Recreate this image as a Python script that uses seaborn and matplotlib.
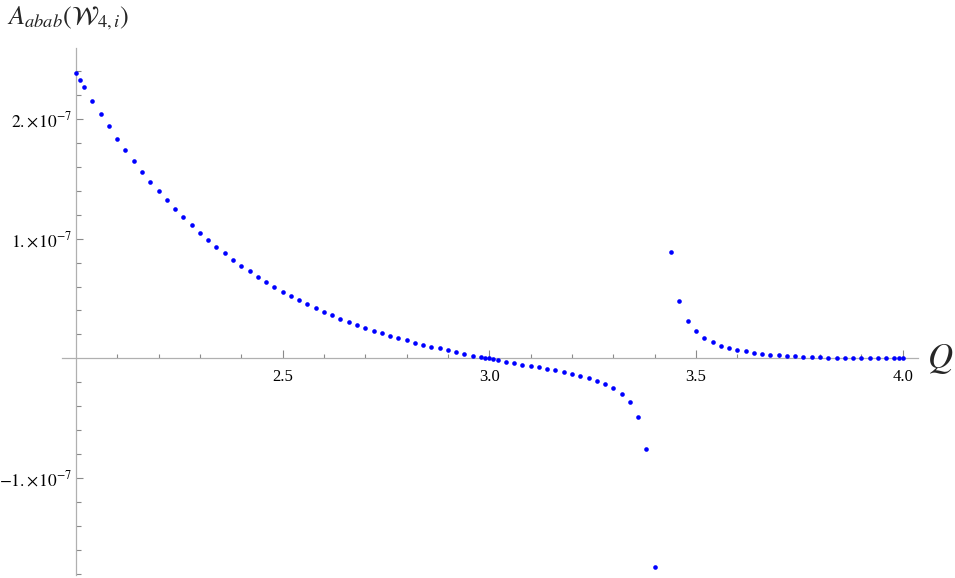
import numpy as np
import pandas as pd
import matplotlib
matplotlib.use("Agg")
import matplotlib.pyplot as plt
import seaborn as sns
from matplotlib.ticker import FixedLocator, NullFormatter

SCALE = 1e-7

q_left = [2.00, 2.01, 2.02, 2.04, 2.06, 2.08, 2.10, 2.12, 2.14, 2.16, 2.18,
          2.20, 2.22, 2.24, 2.26, 2.28, 2.30, 2.32, 2.34, 2.36, 2.38, 2.40,
          2.42, 2.44, 2.46, 2.48, 2.50, 2.52, 2.54, 2.56, 2.58, 2.60, 2.62,
          2.64, 2.66, 2.68, 2.70, 2.72, 2.74, 2.76, 2.78, 2.80, 2.82, 2.84,
          2.86, 2.88, 2.90, 2.92, 2.94, 2.96, 2.98, 2.99, 3.00, 3.01, 3.02,
          3.04, 3.06, 3.08, 3.10, 3.12, 3.14, 3.16, 3.18, 3.20, 3.22, 3.24,
          3.26, 3.28, 3.30, 3.32, 3.34, 3.36, 3.38, 3.40]
a_left = [2.388, 2.329, 2.271, 2.154, 2.045, 1.940, 1.836, 1.742, 1.650, 1.560, 1.477,
          1.399, 1.321, 1.248, 1.179, 1.112, 1.050, 0.989, 0.931, 0.878, 0.826, 0.774,
          0.727, 0.682, 0.638, 0.599, 0.557, 0.521, 0.487, 0.452, 0.420, 0.389, 0.359,
          0.331, 0.306, 0.278, 0.253, 0.230, 0.208, 0.189, 0.169, 0.149, 0.130, 0.113,
          0.097, 0.083, 0.066, 0.049, 0.035, 0.021, 0.010, 0.005, 0.000, -0.006, -0.011,
          -0.028, -0.042, -0.053, -0.064, -0.075, -0.086, -0.100, -0.114, -0.128, -0.145, -0.164,
          -0.187, -0.212, -0.248, -0.298, -0.368, -0.491, -0.756, -1.748]

q_right = [3.44, 3.46, 3.48, 3.50, 3.52, 3.54, 3.56, 3.58, 3.60, 3.62, 3.64,
           3.66, 3.68, 3.70, 3.72, 3.74, 3.76, 3.78, 3.80, 3.82, 3.84, 3.86,
           3.88, 3.90, 3.92, 3.94, 3.96, 3.98, 3.99, 4.00]
a_right = [0.886, 0.477, 0.315, 0.229, 0.173, 0.137, 0.106, 0.089, 0.072, 0.059, 0.047,
           0.039, 0.031, 0.025, 0.022, 0.020, 0.014, 0.011, 0.008, 0.006, 0.004, 0.003,
           0.002, 0.001, 0.001, 0.0005, 0.0003, 0.0002, 0.0001, 0.0001]

x_major = [2.5, 3.0, 3.5, 4.0]
x_labels = ["2.5", "3.0", "3.5", "4.0"]
y_major = [-1.0, 1.0, 2.0]
y_labels = [r"$-1.\!\times\!10^{-7}$", r"$1.\!\times\!10^{-7}$", r"$2.\!\times\!10^{-7}$"]

df = pd.DataFrame({"Q": q_left + q_right,
                   "A": np.array(a_left + a_right) * SCALE})

sns.set_style("white")
plt.rcParams["font.family"] = ["Liberation Serif", "DejaVu Serif"]
plt.rcParams["mathtext.fontset"] = "stix"

W, H = 955, 578
fig = plt.figure(figsize=(W / 100, H / 100), dpi=100)
ax_l, ax_r, ax_t, ax_b = 62, 917.7, 47.7, 575.0
ax = fig.add_axes([ax_l / W, 1 - ax_b / H, (ax_r - ax_l) / W, (ax_b - ax_t) / H])

sns.scatterplot(data=df, x="Q", y="A", ax=ax, color="#0000ff", s=11,
                linewidth=0, zorder=5, clip_on=False, legend=False)

ax.set_xlim(1.9664, 4.0363)
ax.set_ylim(-1.812 * SCALE, 2.597 * SCALE)

for s in ["top", "right"]:
    ax.spines[s].set_visible(False)
ax.spines["left"].set_position(("data", 2.0))
ax.spines["bottom"].set_position(("data", 0.0))
for s in ["left", "bottom"]:
    ax.spines[s].set_color("#b0b0b0")
    ax.spines[s].set_linewidth(0.9)

ax.xaxis.set_major_locator(FixedLocator(x_major))
ax.set_xticklabels(x_labels)
x_minor = [round(2.1 + 0.1 * i, 2) for i in range(19)]
x_minor = [v for v in x_minor if v not in x_major]
ax.xaxis.set_minor_locator(FixedLocator(x_minor))
ax.xaxis.set_minor_formatter(NullFormatter())

ax.yaxis.set_major_locator(FixedLocator([v * SCALE for v in y_major]))
ax.set_yticklabels(y_labels)
y_minor = [round(-1.8 + 0.2 * i, 2) for i in range(23)]
y_minor = [v * SCALE for v in y_minor if round(v, 2) not in (-1.0, 0.0, 1.0, 2.0)]
ax.yaxis.set_minor_locator(FixedLocator(y_minor))
ax.yaxis.set_minor_formatter(NullFormatter())

ax.tick_params(axis="both", which="both", direction="in", color="#8a8a8a",
               width=0.8, labelsize=12, labelcolor="black")
ax.tick_params(axis="x", which="major", length=5.5, pad=8, bottom=True)
ax.tick_params(axis="x", which="minor", length=3.1, bottom=True)
ax.tick_params(axis="y", which="major", length=5.3, pad=3, left=True, labelsize=12.5)
ax.tick_params(axis="y", which="minor", length=3.3, left=True)
ax.set_xlabel("")
ax.set_ylabel("")
ax.grid(False)
ax.patch.set_alpha(0)

fig.text(927 / W, 1 - 359 / H, r"$Q$", fontsize=25, ha="left", va="center")
fig.text(7 / W, 1 - 24 / H, r"$A_{abab}(\mathcal{W}_{4,i})$", fontsize=19,
         ha="left", va="baseline")

fig.savefig("out.png", dpi=100)
